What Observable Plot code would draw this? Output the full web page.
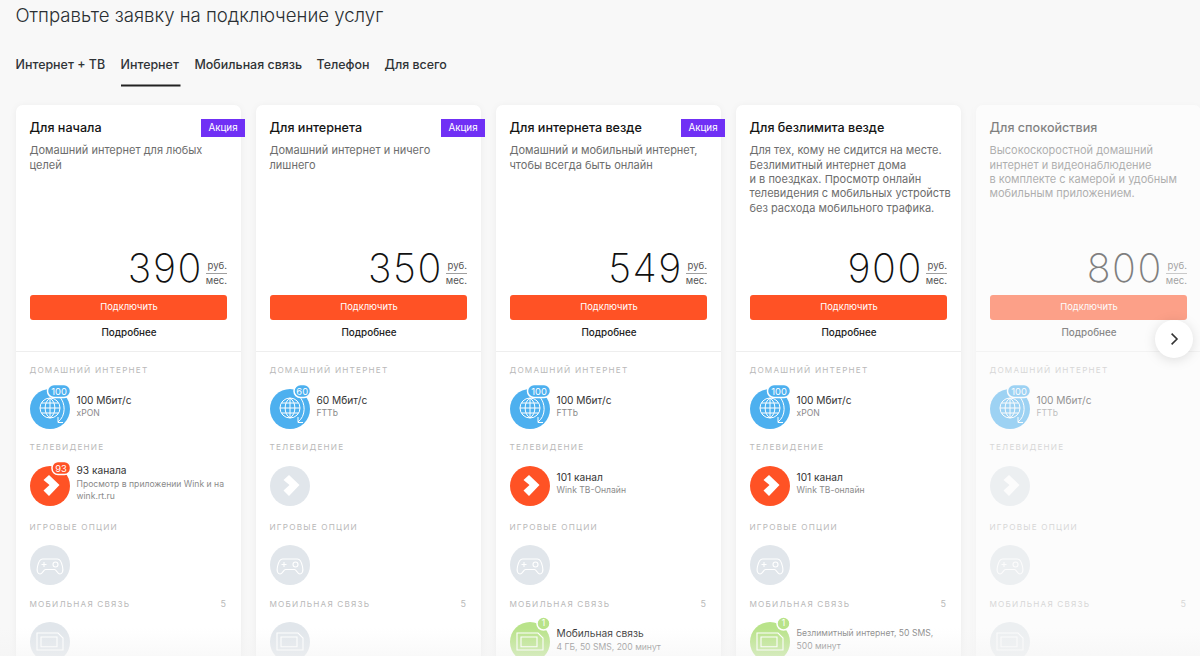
<!DOCTYPE html>
<html lang="ru"><head><meta charset="utf-8">
<script src="https://cdn.jsdelivr.net/npm/d3@7"></script>
<script src="https://cdn.jsdelivr.net/npm/@observablehq/plot@0.6"></script>
<style>
html,body{margin:0;padding:0;background:#f8f8f8;overflow:hidden}
svg{display:block}
.caps text,text.caps{letter-spacing:1.2px}
.price text,text.price{letter-spacing:1.6px}
</style></head><body>
<script>
// ---------- content ----------
const pageTitle = "Отправьте заявку на подключение услуг";
const tabs = ["Интернет + ТВ","Интернет","Мобильная связь","Телефон","Для всего"];
const plans = ["Для начала","Для интернета","Для интернета везде","Для безлимита везде","Для спокойствия"];
const descriptions = [
  "Домашний интернет для любых\nцелей",
  "Домашний интернет и ничего\nлишнего",
  "Домашний и мобильный интернет,\nчтобы всегда быть онлайн",
  "Для тех, кому не сидится на месте.\nБезлимитный интернет дома\nи в поездках. Просмотр онлайн\nтелевидения с мобильных устройств\nбез расхода мобильного трафика.",
  "Высокоскоростной домашний\nинтернет и видеонаблюдение\nв комплекте с камерой и удобным\nмобильным приложением."
];
const prices = [390,350,549,900,800];
const promo = [true,true,true,false,false];
const speedBadges = [100,60,100,100,100];
const speedTitles = ["100 Мбит/с","60 Мбит/с","100 Мбит/с","100 Мбит/с","100 Мбит/с"];
const speedTech = ["xPON","FTTb","FTTb","xPON","FTTb"];
const tvTitles = ["93 канала",null,"101 канал","101 канал",null];
const tvNotes = ["Просмотр в приложении Wink и на\nwink.rt.ru",null,"Wink ТВ-Онлайн","Wink ТВ-онлайн",null];
const tvBadges = [93,null,null,null,null];
const mobileTitles = [null,null,"Мобильная связь",null,null];
const mobileNotes = [null,null,"4 ГБ, 50 SMS, 200 минут","Безлимитный интернет, 50 SMS,\n500 минут",null];
const mobileBadges = [null,null,1,1,null];
const sectionLabels = ["ДОМАШНИЙ ИНТЕРНЕТ","ТЕЛЕВИДЕНИЕ","ИГРОВЫЕ ОПЦИИ","МОБИЛЬНАЯ СВЯЗЬ"];
const mobileCount = 5;
const ctaLabel = "Подключить", moreLabel = "Подробнее", promoLabel = "Акция";

// ---------- layout ----------
const W = 1200, H = 656;
const FONT = "Inter, 'Noto Sans', sans-serif";
const cards = plans.map((_, i) => i);
const left = i => 16 + 240 * i;
const at = k => i => left(i) + k;
const tabLefts = [15.5,120.5,194.5,316.5,384.5];
const sectionY = [370,447,526.5,603.5];
const ORANGE = "#ff5225", BLUE = "#4db0ef", GREY = "#e1e6eb", GREEN = "#b9e38a", VIOLET = "#7030f5";

// ---------- icon glyphs (drawn by the dot mark, unit = px at r 20) ----------
const glyph = fn => ({draw(c, size){ const s = Math.sqrt(size / Math.PI) / 20; fn(c, s); }});
const globe = glyph((c,s) => {
  const R = 10*s;
  c.moveTo(R,-1*s); c.arc(0,-1*s,R,0,2*Math.PI);
  c.moveTo(0,-11*s); c.lineTo(0,9*s);
  c.moveTo(-R,-1*s); c.lineTo(R,-1*s);
  c.moveTo(-8.5*s,-6*s); c.lineTo(8.5*s,-6*s);
  c.moveTo(-8.5*s,4*s); c.lineTo(8.5*s,4*s);
  c.moveTo(0,-11*s); c.bezierCurveTo(-6.5*s,-7*s,-6.5*s,5*s,0,9*s);
  c.moveTo(0,-11*s); c.bezierCurveTo(6.5*s,-7*s,6.5*s,5*s,0,9*s);
  c.moveTo(9*s,-13*s); c.bezierCurveTo(16*s,-6*s,16*s,7*s,8*s,13*s);
  c.moveTo(8*s,8*s); c.lineTo(8*s,13.5*s); c.lineTo(13*s,13.5*s);
});
const wink = glyph((c,s) => {
  const p = [[-1,-11],[9.5,-1],[-1,10],[-6.5,4.5],[-0.5,-1],[-6.5,-6]];
  p.forEach(([x,y],i) => i ? c.lineTo(x*s,y*s) : c.moveTo(x*s,y*s));
  c.closePath();
});
const pad = glyph((c,s) => {
  c.moveTo(-7.5*s,-6*s); c.lineTo(7.5*s,-6*s);
  c.bezierCurveTo(10.5*s,-6*s,11.5*s,-3*s,12.5*s,1.5*s);
  c.bezierCurveTo(13.5*s,6*s,12.5*s,9*s,10*s,9*s);
  c.bezierCurveTo(7.5*s,9*s,6.5*s,4.5*s,4.5*s,4.5*s);
  c.lineTo(-4.5*s,4.5*s);
  c.bezierCurveTo(-6.5*s,4.5*s,-7.5*s,9*s,-10*s,9*s);
  c.bezierCurveTo(-12.5*s,9*s,-13.5*s,6*s,-12.5*s,1.5*s);
  c.bezierCurveTo(-11.5*s,-3*s,-10.5*s,-6*s,-7.5*s,-6*s);
  c.moveTo(-8.5*s,-0.5*s); c.lineTo(-3.5*s,-0.5*s);
  c.moveTo(-6*s,-3*s); c.lineTo(-6*s,2*s);
  c.moveTo(8*s,-0.5*s); c.arc(5.5*s,-0.5*s,2.5*s,0,2*Math.PI);
});
const sim = glyph((c,s) => {
  c.moveTo(-13*s,-9*s); c.lineTo(8*s,-9*s); c.lineTo(13*s,-4*s); c.lineTo(13*s,8*s); c.lineTo(-13*s,8*s); c.closePath();
  c.moveTo(-9*s,-5*s); c.lineTo(7*s,-5*s); c.lineTo(7*s,4.7*s); c.lineTo(-9*s,4.7*s); c.closePath();
});
const chevron = glyph((c,s) => {
  c.moveTo(-4*s,-9*s); c.lineTo(5*s,0); c.lineTo(-4*s,9*s);
});

const has = arr => cards.filter(i => arr[i] != null);
const labelRows = cards.flatMap(i => sectionLabels.map((t,j) => ({i,t,y:sectionY[j]})));
const base = {fontFamily: FONT, dx: -0.5};
const dotBase = {dx: -0.5, dy: -0.5};

// ---------- marks ----------
const iconDisc = (data, y, fill) => Plot.dot(data, {...dotBase, x: at(34), y: () => y, r: 20, fill: typeof fill === "function" ? fill : () => fill, stroke: "none"});
const iconLine = (y, symbol, w=1.1) => Plot.dot(cards, {...dotBase, x: at(34), y: () => y, r: 20, symbol: () => symbol, fill: "none", stroke: "#fff", strokeWidth: w});

const marks = [
  // header
  Plot.text([pageTitle], {...base, x: () => 15.5, y: () => 16, text: d => d, textAnchor: "start", fontSize: 18.6, fontWeight: 300, fill: "#2a2f33"}),
  Plot.text(tabs, {...base, x: (d,i) => tabLefts[i], y: () => 65, text: d => d, textAnchor: "start", fontSize: 12.45, fontWeight: 500, fill: "#2f3336"}),
  Plot.rect(["Интернет"], {x1: () => 121, x2: () => 180.5, y1: () => 84.5, y2: () => 86.5, fill: "#222"}),

  // cards
  Plot.rect(cards, {x1: at(0), x2: at(225), y1: () => 105, y2: () => H + 30, rx: 7, fill: "#fff", imageFilter: "drop-shadow(0 1px 3px rgba(0,0,0,.05))"}),
  Plot.text(cards, {...base, x: at(13.5), y: () => 127, text: i => plans[i], textAnchor: "start", fontSize: 12.6, fontWeight: 500, fill: "#141414"}),
  Plot.rect(cards.filter(i => promo[i]), {x1: at(185), x2: at(229), y1: () => 119, y2: () => 137, fill: VIOLET}),
  Plot.text(cards.filter(i => promo[i]), {...base, x: at(207), y: () => 127.5, text: () => promoLabel, fontSize: 9.8, fontWeight: 400, fill: "#fff"}),
  Plot.text(cards, {...base, x: at(13.5), y: () => 143.5, text: i => descriptions[i], textAnchor: "start", lineAnchor: "top", lineHeight: 1.31, fontSize: 11, fontWeight: 400, fill: "#6d6d6d"}),

  // price
  Plot.text(cards, {...base, className: "price", x: at(187), y: () => 268.5, text: i => String(prices[i]), textAnchor: "end", fontSize: 39.5, fontWeight: 200, fill: "#111"}),
  Plot.text(cards, {...base, x: at(211), y: () => 265.5, text: () => "руб.", textAnchor: "end", fontSize: 9.6, fill: "#555"}),
  Plot.rect(cards, {x1: at(190), x2: at(211), y1: () => 273, y2: () => 273.7, fill: "#777"}),
  Plot.text(cards, {...base, x: at(211), y: () => 280, text: () => "мес.", textAnchor: "end", fontSize: 9.6, fill: "#555"}),
  Plot.rect(cards, {x1: at(14), x2: at(211), y1: () => 295, y2: () => 320, rx: 3, fill: ORANGE}),
  Plot.text(cards, {...base, x: at(113), y: () => 306.5, text: () => ctaLabel, fontSize: 9.4, fill: "#fff"}),
  Plot.text(cards, {...base, x: at(113), y: () => 332.5, text: () => moreLabel, fontSize: 9.9, fontWeight: 500, fill: "#222"}),
  Plot.rect(cards, {x1: at(0), x2: at(225), y1: () => 351, y2: () => 352, fill: "#eeeeee"}),

  // section labels
  Plot.text(labelRows, {...base, className: "caps", x: d => left(d.i) + 13.5, y: d => d.y, text: d => d.t, textAnchor: "start", fontSize: 8.2, fill: "#b9b9b9"}),
  Plot.text(cards, {...base, x: at(210), y: () => sectionY[3], text: () => String(mobileCount), textAnchor: "end", fontSize: 9, fill: "#b9b9b9"}),

  // internet
  iconDisc(cards, 409, BLUE),
  iconLine(409, globe, 1),
  Plot.rect(cards, {x1: i => left(i) + (speedBadges[i] > 99 ? 31.5 : 38), x2: at(54.5), y1: () => 384.5, y2: () => 397.5, rx: 6.5, fill: BLUE, stroke: "#fff", strokeWidth: 1.5}),
  Plot.text(cards, {...base, x: i => left(i) + (speedBadges[i] > 99 ? 43 : 46.2), y: () => 391, text: i => String(speedBadges[i]), fontSize: 9.4, fill: "#fff"}),
  Plot.text(cards, {...base, x: at(60.5), y: () => 400, text: i => speedTitles[i], textAnchor: "start", fontSize: 10.2, fill: "#333"}),
  Plot.text(cards, {...base, x: at(60.5), y: () => 413, text: i => speedTech[i], textAnchor: "start", fontSize: 8.6, fill: "#8a8a8a"}),

  // tv
  iconDisc(cards, 486, i => tvTitles[i] ? ORANGE : GREY),
  Plot.dot(cards, {...dotBase, x: at(34), y: () => 486, r: 20, symbol: () => wink, fill: "#fff", stroke: "none"}),
  Plot.rect(has(tvBadges), {x1: at(36), x2: at(54.5), y1: () => 461.5, y2: () => 474.5, rx: 6, fill: ORANGE, stroke: "#fff", strokeWidth: 1.5}),
  Plot.text(has(tvBadges), {...base, x: at(45), y: () => 468, text: i => String(tvBadges[i]), fontSize: 9.4, fill: "#fff"}),
  Plot.text(has(tvTitles), {...base, x: at(60.5), y: i => tvNotes[i].includes("\n") ? 470.5 : 477, text: i => tvTitles[i], textAnchor: "start", fontSize: 10.2, fill: "#333"}),
  Plot.text(has(tvNotes), {...base, x: at(60.5), y: i => tvNotes[i].includes("\n") ? 477.5 : 484, text: i => tvNotes[i], textAnchor: "start", lineAnchor: "top", lineHeight: 1.45, fontSize: 8.6, fill: "#8a8a8a"}),

  // games
  iconDisc(cards, 565, GREY),
  iconLine(565, pad),

  // mobile
  iconDisc(cards, 642, i => mobileBadges[i] ? GREEN : GREY),
  iconLine(642, sim),
  Plot.dot(has(mobileBadges), {...dotBase, x: at(47.5), y: () => 623.5, r: 6.5, fill: GREEN, stroke: "#fff", strokeWidth: 1.5}),
  Plot.text(has(mobileBadges), {...base, x: at(47.5), y: () => 623, text: i => String(mobileBadges[i]), fontSize: 8.5, fill: "#fff"}),
  Plot.text(has(mobileTitles), {...base, x: at(60.5), y: () => 633, text: i => mobileTitles[i], textAnchor: "start", fontSize: 10.2, fill: "#333"}),
  Plot.text(has(mobileNotes), {...base, x: at(60.5), y: i => mobileTitles[i] ? 640.5 : 626.5, text: i => mobileNotes[i], textAnchor: "start", lineAnchor: "top", lineHeight: 1.5, fontSize: 8.6, fill: "#8a8a8a"}),

  // fifth card fades out, page fades at the fold
  Plot.rect([4], {x1: at(-3), x2: () => W + 1, y1: () => 100, y2: () => H + 1, fill: "#f8f8f8", fillOpacity: 0.47}),
  () => {
    const svg = d3.create("svg:defs");
    const g = svg.append("linearGradient").attr("id","fold").attr("x1",0).attr("x2",0).attr("y1",0).attr("y2",1);
    g.append("stop").attr("offset","0").attr("stop-color","#f3f3f3").attr("stop-opacity",0);
    g.append("stop").attr("offset","1").attr("stop-color","#f3f3f3").attr("stop-opacity",.5);
    return svg.node();
  },
  Plot.rect(["fold"], {x1: () => 0, x2: () => W + 1, y1: () => 628, y2: () => H + 1, fill: "url(#fold)"}),

  // next button
  Plot.dot(["next"], {...dotBase, x: () => 1174, y: () => 339, r: 19, fill: "#fff", stroke: "none", imageFilter: "drop-shadow(0 2px 6px rgba(0,0,0,.12))"}),
  Plot.dot(["next"], {...dotBase, x: () => 1174, y: () => 339, r: 12, symbol: () => chevron, fill: "none", stroke: "#333", strokeWidth: 1.6})
];

const chart = Plot.plot({
  width: W, height: H, margin: 0,
  x: {domain: [0, W], range: [0, W], axis: null},
  y: {domain: [0, H], range: [0, H], axis: null},
  symbol: {type: "identity"},
  style: {background: "#f8f8f8", fontFamily: FONT},
  marks
});
document.body.append(chart);
</script>
</body></html>
